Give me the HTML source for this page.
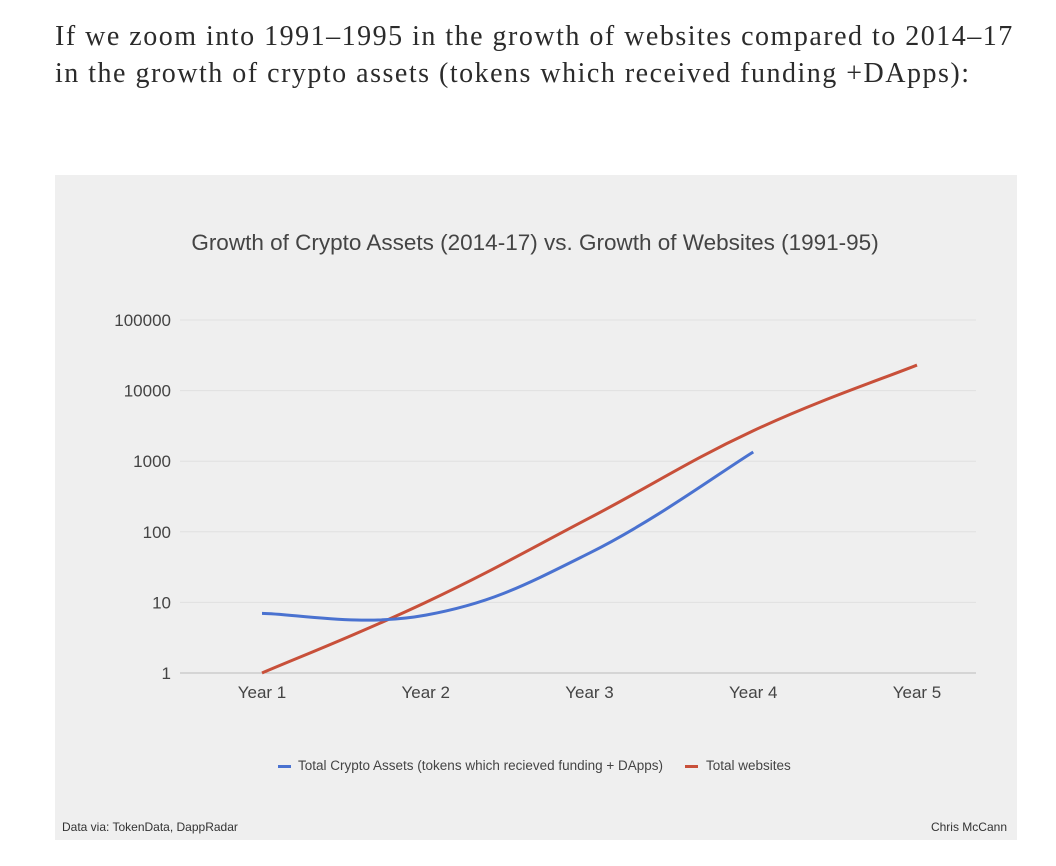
<!DOCTYPE html>
<html><head><meta charset="utf-8"><style>
body{margin:0;background:#fff;width:1056px;height:866px;overflow:hidden;position:relative;font-family:"Liberation Sans",sans-serif}
.intro{position:absolute;left:55px;top:18px;font-family:"Liberation Serif",serif;font-size:28px;letter-spacing:1.5px;line-height:37px;color:#2b2b2b;margin:0;white-space:nowrap}
svg{position:absolute;left:0;top:0}
</style></head><body>
<p class="intro">If we zoom into 1991–1995 in the growth of websites compared to 2014–17<br>in the growth of crypto assets (tokens which received funding +DApps):</p>
<svg width="1056" height="866">
<rect x="55" y="175" width="962" height="665" fill="#efefef"/>
<text x="535" y="250" text-anchor="middle" font-size="22.5" fill="#444">Growth of Crypto Assets (2014-17) vs. Growth of Websites (1991-95)</text>
<g id="grid"></g><g id="lines"></g>
<g>
<rect x="278" y="765" width="13" height="3" fill="#4a72d0"/>
<text x="298" y="770" font-size="13.5" fill="#444">Total Crypto Assets (tokens which recieved funding + DApps)</text>
<rect x="685" y="765" width="13" height="3" fill="#c8503a"/>
<text x="706" y="770" font-size="13.5" fill="#444">Total websites</text>
</g>
<text x="62" y="831" font-size="12" fill="#333">Data via: TokenData, DappRadar</text>
<text x="1007" y="831" text-anchor="end" font-size="12" fill="#333">Chris McCann</text>
</svg>
<script>
const categories=["Year 1","Year 2","Year 3","Year 4","Year 5"];
const cryptoValues=[7,6.6,50,1350,null];
const websiteValues=[1,10,157,2700,23000];
const yTicks=[1,10,100,1000,10000,100000];
const X=i=>262+i*163.75;
const Y=v=>673-Math.log10(v)*70.6;
const NS="http://www.w3.org/2000/svg";
const grid=document.getElementById('grid'),lines=document.getElementById('lines');
yTicks.forEach((t,i)=>{
 const l=document.createElementNS(NS,'line');
 l.setAttribute('x1',180);l.setAttribute('x2',976);l.setAttribute('y1',Y(t));l.setAttribute('y2',Y(t));
 l.setAttribute('stroke',i==0?'#bbb':'#e0e0e0');l.setAttribute('stroke-width',1);
 
 
 grid.appendChild(l);
 const tx=document.createElementNS(NS,'text');
 tx.setAttribute('x',171);tx.setAttribute('y',Y(t)+6);tx.setAttribute('text-anchor','end');
 tx.setAttribute('font-size',17);tx.setAttribute('fill','#444');tx.textContent=t;
 
 
 grid.appendChild(tx);
});
categories.forEach((c,i)=>{
 const tx=document.createElementNS(NS,'text');
 tx.setAttribute('x',X(i));tx.setAttribute('y',698);tx.setAttribute('text-anchor','middle');
 tx.setAttribute('font-size',17);tx.setAttribute('fill','#444');tx.textContent=c;
 
 
 grid.appendChild(tx);
});
function path(vals){
 const p=[];vals.forEach((v,i)=>{if(v!=null)p.push([X(i),Y(v)]);});
 let d='M'+p[0][0]+','+p[0][1];
 for(let i=0;i<p.length-1;i++){
  const p0=p[Math.max(0,i-1)],p1=p[i],p2=p[i+1],p3=p[Math.min(p.length-1,i+2)];
  const t=0.2;
  const c1=[p1[0]+(p2[0]-p0[0])*t,p1[1]+(p2[1]-p0[1])*t];
  const c2=[p2[0]-(p3[0]-p1[0])*t,p2[1]-(p3[1]-p1[1])*t];
  d+=` C${c1[0]},${c1[1]} ${c2[0]},${c2[1]} ${p2[0]},${p2[1]}`;
 }
 return d;
}
[[websiteValues,'#c8503a','line-websites'],[cryptoValues,'#4a72d0','line-crypto']].forEach(([v,c,n])=>{
 const e=document.createElementNS(NS,'path');
 e.setAttribute('d',path(v));e.setAttribute('fill','none');e.setAttribute('stroke',c);e.setAttribute('stroke-width',3);
 
 
 lines.appendChild(e);
});
</script>
</body></html>
